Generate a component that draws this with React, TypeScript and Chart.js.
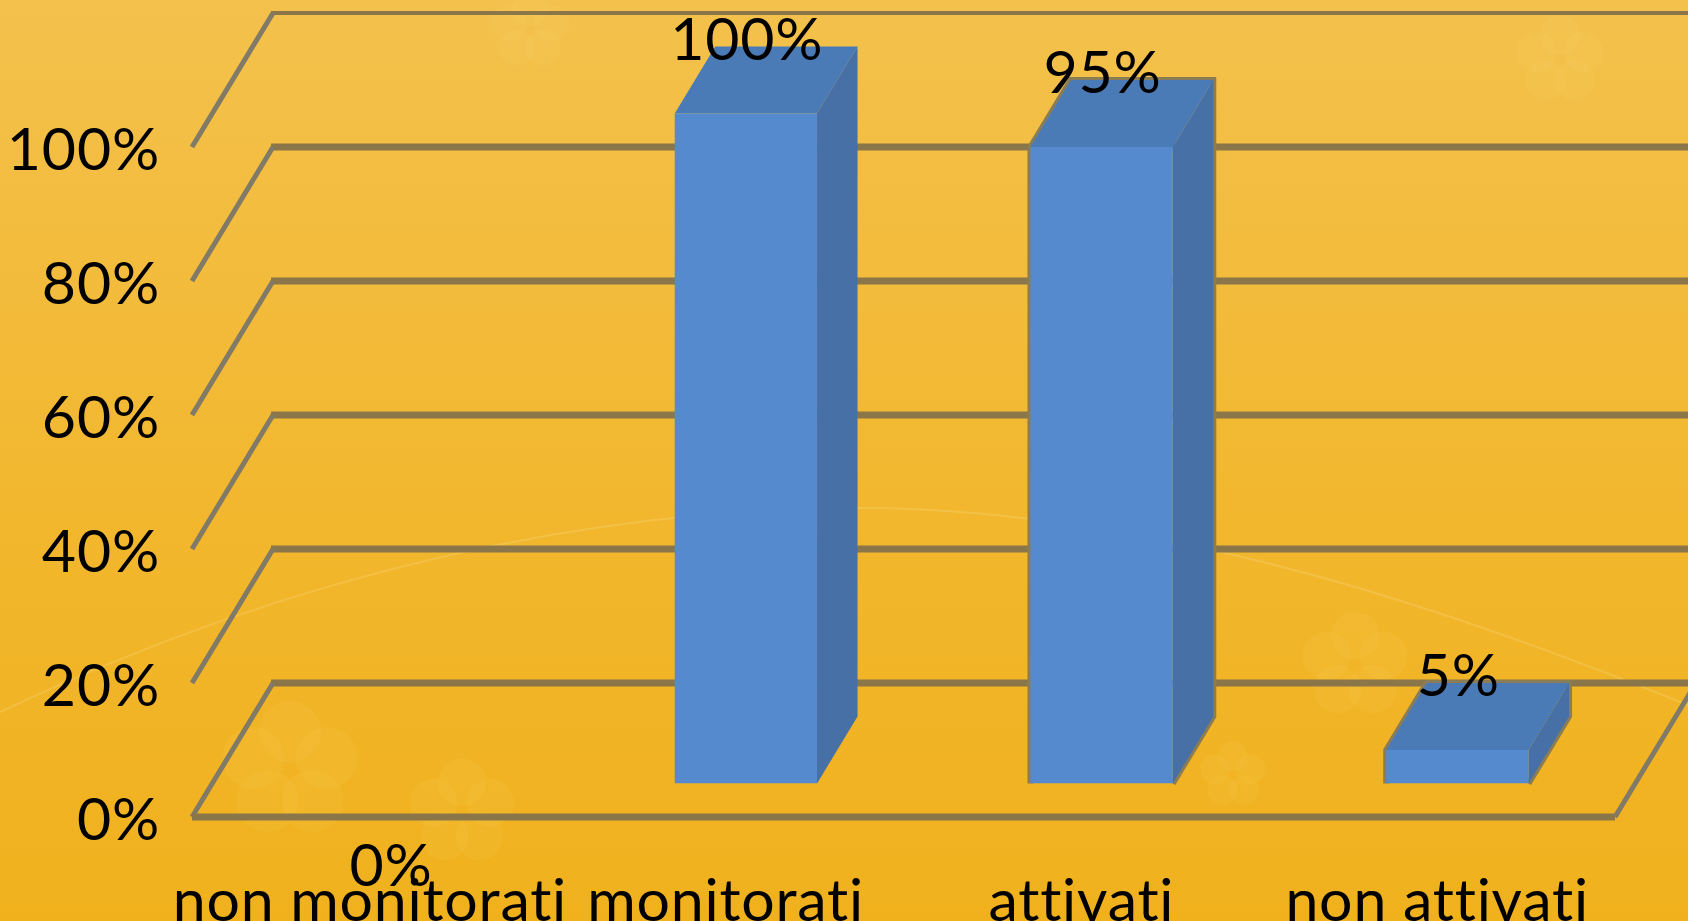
import React, { useEffect, useRef } from "react";
import { Chart, registerables } from "chart.js";

Chart.register(...registerables);

const categories = ["non monitorati", "monitorati", "attivati", "non attivati"];
const values = [0, 100, 95, 5];
const axisMax = 120;
const axisStep = 20;
const lastGridValue = 100;

const FONT = "Lato, Carlito, sans-serif";
const FONT_SIZE = 59;
const DEPTH_X = 81;
const DEPTH_Y = 134;
const GRID_BACK = "#8a7649";
const GRID_SIDE = "#807a66";
const BAR_FRONT = "#558bce";
const BAR_TOP = "#4b7bb6";
const BAR_SIDE = "#4670a6";
const BAR_OUTLINE = "#8a7d55";
const outlinedBars = [false, false, true, true];

const flowers = [
  [462, 812, 48],
  [1233, 775, 30],
  [1355, 665, 48],
  [290, 770, 62],
  [1560, 60, 40],
  [530, 30, 36],
];

function drawBackground(c: Chart) {
  const { ctx, width, height } = c;
  ctx.save();
  const g = ctx.createLinearGradient(0, 0, 0, height);
  g.addColorStop(0, "#f3c14c");
  g.addColorStop(0.55, "#f2b72e");
  g.addColorStop(1, "#f0b11d");
  ctx.fillStyle = g;
  ctx.fillRect(0, 0, width, height);
  ctx.fillStyle = "rgba(255,225,130,0.08)";
  for (const [x, y, r] of flowers) {
    for (let i = 0; i < 5; i++) {
      const a = (i * 2 * Math.PI) / 5 - Math.PI / 2;
      ctx.beginPath();
      ctx.arc(x + Math.cos(a) * r * 0.62, y + Math.sin(a) * r * 0.62, r * 0.5, 0, Math.PI * 2);
      ctx.fill();
    }
  }
  ctx.strokeStyle = "rgba(255,235,180,0.2)";
  ctx.lineWidth = 2;
  ctx.beginPath();
  ctx.moveTo(0, 712);
  ctx.bezierCurveTo(300, 570, 600, 505, 880, 508);
  ctx.bezierCurveTo(1180, 515, 1450, 610, 1688, 705);
  ctx.stroke();
  ctx.restore();
}

function drawWalls(c: Chart) {
  const { ctx, chartArea, scales } = c;
  const y = scales.y;
  const { left, right } = chartArea;
  ctx.save();
  ctx.lineCap = "butt";
  for (let v = 0; v <= lastGridValue; v += axisStep) {
    const py = y.getPixelForValue(v);
    ctx.strokeStyle = GRID_BACK;
    ctx.lineWidth = v === lastGridValue ? 4 : 7;
    ctx.beginPath();
    ctx.moveTo(left + DEPTH_X - 2, py - DEPTH_Y);
    ctx.lineTo(c.width, py - DEPTH_Y);
    ctx.stroke();
    ctx.strokeStyle = GRID_SIDE;
    ctx.lineWidth = 5;
    ctx.beginPath();
    ctx.moveTo(left, py);
    ctx.lineTo(left + DEPTH_X, py - DEPTH_Y);
    ctx.stroke();
  }
  const y0 = y.getPixelForValue(0);
  ctx.strokeStyle = GRID_BACK;
  ctx.lineWidth = 7;
  ctx.beginPath();
  ctx.moveTo(left, y0);
  ctx.lineTo(right, y0);
  ctx.stroke();
  ctx.strokeStyle = GRID_SIDE;
  ctx.lineWidth = 5;
  ctx.beginPath();
  ctx.moveTo(right, y0);
  ctx.lineTo(right + DEPTH_X, y0 - DEPTH_Y);
  ctx.stroke();
  ctx.restore();
}

function poly(ctx: CanvasRenderingContext2D, pts: number[][], fill: string) {
  ctx.fillStyle = fill;
  ctx.beginPath();
  pts.forEach(([x, y], i) => (i ? ctx.lineTo(x, y) : ctx.moveTo(x, y)));
  ctx.closePath();
  ctx.fill();
}

const threeD = {
  id: "threeD",
  beforeDraw(c: Chart) {
    (c.ctx as any).letterSpacing = "0.8px";
    drawBackground(c);
  },
  beforeDatasetsDraw(c: Chart) {
    drawWalls(c);
    const { ctx } = c;
    const ox = DEPTH_X / 4;
    const oy = DEPTH_Y / 4;
    const dx = DEPTH_X / 2;
    const dy = DEPTH_Y / 2;
    c.getDatasetMeta(0).data.forEach((el: any, i: number) => {
      if (!values[i]) return;
      const l = el.x - el.width / 2 + ox;
      const r = el.x + el.width / 2 + ox;
      const t = el.y - oy;
      const b = el.base - oy;
      if (outlinedBars[i]) {
        ctx.save();
        ctx.strokeStyle = BAR_OUTLINE;
        ctx.lineWidth = 6;
        ctx.lineJoin = "miter";
        ctx.beginPath();
        ctx.moveTo(l, b);
        ctx.lineTo(l, t);
        ctx.lineTo(l + dx, t - dy);
        ctx.lineTo(r + dx, t - dy);
        ctx.lineTo(r + dx, b - dy);
        ctx.lineTo(r, b);
        ctx.stroke();
        ctx.restore();
      }
      poly(ctx, [[l, t], [l + dx, t - dy], [r + dx, t - dy], [r, t]], BAR_TOP);
      poly(ctx, [[r, t], [r + dx, t - dy], [r + dx, b - dy], [r, b]], BAR_SIDE);
    });
  },
  beforeDatasetDraw(c: Chart) {
    c.ctx.save();
    c.ctx.translate(DEPTH_X / 4, -DEPTH_Y / 4);
  },
  afterDatasetDraw(c: Chart) {
    c.ctx.restore();
  },
  afterDatasetsDraw(c: Chart) {
    const { ctx } = c;
    ctx.save();
    ctx.fillStyle = "#000";
    ctx.font = `${FONT_SIZE}px ${FONT}`;
    ctx.textAlign = "center";
    ctx.textBaseline = "middle";
    c.getDatasetMeta(0).data.forEach((el: any, i: number) => {
      const top = el.y - DEPTH_Y / 4;
      const py = values[i] ? top - 73 : top + 83;
      ctx.fillText(`${values[i]}%`, el.x + DEPTH_X / 4 + 1, py);
    });
    ctx.restore();
  },
};

export default function App() {
  const ref = useRef<HTMLCanvasElement>(null);
  useEffect(() => {
    const chart = new Chart(ref.current!, {
      type: "bar",
      data: {
        labels: categories,
        datasets: [
          {
            data: values,
            backgroundColor: BAR_FRONT,
            barPercentage: 0.4,
            categoryPercentage: 1,
          },
        ],
      },
      options: {
        animation: false,
        responsive: false,
        layout: { padding: { top: 13, right: 73, left: 0, bottom: 0 } },
        plugins: { legend: { display: false }, tooltip: { enabled: false } },
        scales: {
          x: {
            grid: { display: false },
            border: { display: false },
            afterFit: (s: any) => {
              s.height = 104;
              s.paddingLeft = 0;
              s.paddingRight = 0;
            },
            ticks: {
              autoSkip: false,
              maxRotation: 0,
              minRotation: 0,
              padding: 42,
              color: "#000",
              font: { family: FONT, size: FONT_SIZE },
            },
          },
          y: {
            min: 0,
            max: axisMax,
            grid: { display: false },
            border: { display: false },
            afterFit: (s: any) => {
              s.width = 192;
              s.paddingTop = 0;
              s.paddingBottom = 0;
            },
            ticks: {
              stepSize: axisStep,
              padding: 24,
              labelOffset: 4,
              color: "#000",
              font: { family: FONT, size: FONT_SIZE },
              callback: (v: any) => (v <= lastGridValue ? `${v}%` : ""),
            },
          },
        },
      },
      plugins: [threeD],
    } as any);
    return () => chart.destroy();
  }, []);
  return (
    <div style={{ position: "fixed", left: 0, top: 0, width: 1688, height: 921, overflow: "hidden" }}>
      <canvas ref={ref} width={1688} height={921} style={{ display: "block" }} />
    </div>
  );
}
